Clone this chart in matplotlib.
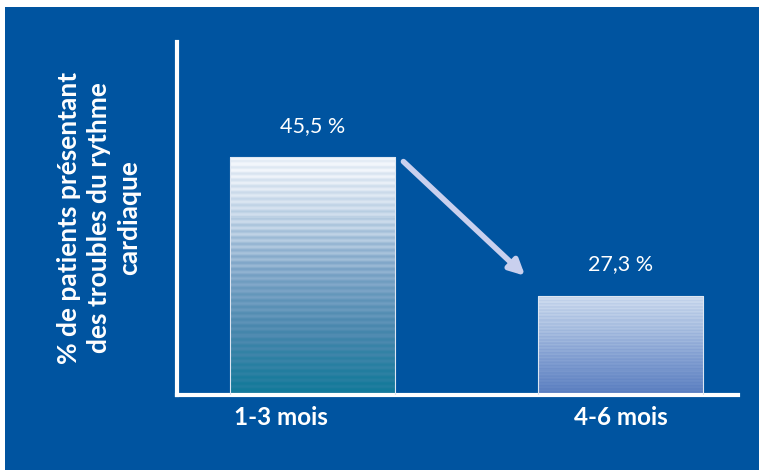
import numpy as np
import matplotlib
matplotlib.use("Agg")
import matplotlib.pyplot as plt
from matplotlib.patches import Rectangle
from matplotlib.colors import LinearSegmentedColormap
from matplotlib.transforms import ScaledTranslation

categories = ["1-3 mois", "4-6 mois"]
values = [45.5, 27.3]
value_labels = ["45,5 %", "27,3 %"]
ylabel = "% de patients présentant\ndes troubles du rythme\ncardiaque"

BG = "#0054A0"
plt.rcParams['font.family'] = ['Lato', 'DejaVu Sans']

fig = plt.figure(figsize=(7.59, 4.70), dpi=100)
fig.patch.set_facecolor("white")
fig.patches.append(Rectangle((5/759, 0), 1, 1 - 7/470, transform=fig.transFigure,
                             facecolor=BG, edgecolor="none", zorder=-10))

ax = fig.add_axes([177/759, 75/470, (738-177)/759, (395-42)/470])
ax.set_facecolor("none")
ax.set_xlim(-0.44, 1.381)
ax.set_ylim(14.25, 60.6)

for s in ["top", "right"]:
    ax.spines[s].set_visible(False)
for s in ["left", "bottom"]:
    ax.spines[s].set_color("white")
    ax.spines[s].set_linewidth(3.0)

x = np.arange(len(categories))
width = 0.536
bars = ax.bar(x, values, width=width, color="none", edgecolor="#dde6f2", linewidth=0.8, zorder=3)

cmaps = [
    LinearSegmentedColormap.from_list("b1", ["#137A9A", "#4A88AE", "#7FA6C8", "#C4D6E8", "#F2F6FB"]),
    LinearSegmentedColormap.from_list("b2", ["#5A7EC0", "#7F9CD0", "#A8BEE0", "#CCDAEE"]),
]
periods = [6.3, 3.2]
ymin = ax.get_ylim()[0]
px_per_unit = 351 / (60.6 - 14.25)
for i, (b, v) in enumerate(zip(bars, values)):
    npx = int((v - ymin) * px_per_unit)
    rows = np.arange(npx)[::-1]
    t = rows / max(npx - 1, 1)
    stripes = 0.07 * np.sin(2 * np.pi * rows / periods[i])
    vals = np.clip(t + stripes * (0.4 + 0.6 * t), 0, 1)
    img = vals.reshape(-1, 1)
    im = ax.imshow(img, cmap=cmaps[i], vmin=0, vmax=1, aspect="auto", interpolation="nearest",
                   extent=[b.get_x(), b.get_x() + b.get_width(), ymin, v], zorder=2)
    im.set_clip_path(b)
    ax.text(b.get_x() + b.get_width() / 2, v + 2.8, value_labels[i], ha="center", va="bottom",
            color="white", fontsize=15.5)

ax.set_xlim(-0.44, 1.381)
ax.set_ylim(14.25, 60.6)

ax.annotate("", xy=(0.69, 29.9), xytext=(0.295, 44.9),
            arrowprops=dict(arrowstyle="-|>,head_length=0.9,head_width=0.45", color="#C9D0EE", lw=4,
                            shrinkA=0, shrinkB=0), zorder=4)

ax.set_yticks([])
ax.set_xticks(x)
ax.set_xticklabels(categories, fontsize=17.5, fontweight="bold", color="white")
ax.tick_params(axis="x", length=0, pad=8)
offs = [-32, 0]
for lab, o in zip(ax.get_xticklabels(), offs):
    lab.set_transform(lab.get_transform() + ScaledTranslation(o / 100, 0, fig.dpi_scale_trans))

fig.text(99/759, 1 - 218/470, ylabel, rotation=90, ha="center", va="center", color="white",
         fontsize=19, fontweight="bold", multialignment="center", linespacing=1.32)

fig.savefig("out.png", dpi=100, facecolor=fig.get_facecolor())
